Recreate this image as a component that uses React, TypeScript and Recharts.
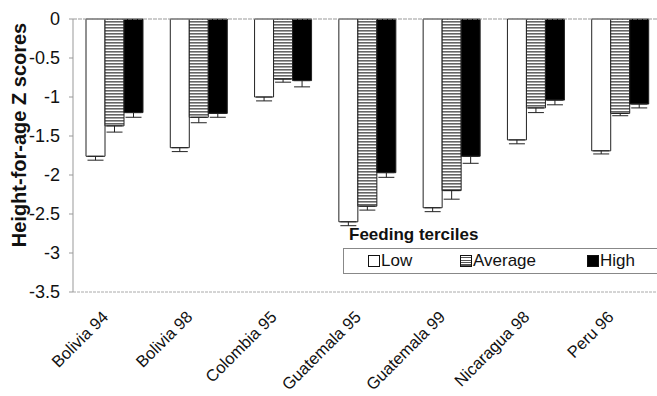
import { BarChart, Bar, XAxis, YAxis, ErrorBar, ReferenceLine } from 'recharts';

const categories = ['Bolivia 94', 'Bolivia 98', 'Colombia 95', 'Guatemala 95', 'Guatemala 99', 'Nicaragua 98', 'Peru 96'];
const low = [-1.76, -1.65, -1.0, -2.6, -2.42, -1.55, -1.69];
const lowErr = [0.05, 0.05, 0.05, 0.05, 0.05, 0.05, 0.04];
const average = [-1.37, -1.26, -0.77, -2.4, -2.2, -1.14, -1.21];
const averageErr = [0.08, 0.07, 0.04, 0.05, 0.11, 0.06, 0.03];
const high = [-1.2, -1.21, -0.79, -1.97, -1.76, -1.04, -1.09];
const highErr = [0.06, 0.05, 0.08, 0.06, 0.09, 0.06, 0.05];
const yTicks = [0, -0.5, -1, -1.5, -2, -2.5, -3, -3.5];

const data = categories.map((name, i) => ({
  name,
  low: low[i],
  lowErr: [lowErr[i], 0],
  average: average[i],
  averageErr: [averageErr[i], 0],
  high: high[i],
  highErr: [highErr[i], 0],
}));

const font = '"Liberation Sans", Arial, sans-serif';

function CategoryTick({ x, y, payload }: any) {
  const tx = x - 6;
  const ty = y + 18;
  return (
    <text
      x={tx}
      y={ty}
      transform={`rotate(-45, ${tx}, ${ty})`}
      textAnchor="end"
      fontSize={16.5}
      fontFamily={font}
      fill="#111"
    >
      {payload.value}
    </text>
  );
}

function AxisTitle() {
  return (
    <text
      x={26}
      y={135}
      transform="rotate(-90, 26, 135)"
      textAnchor="middle"
      fontSize={20}
      fontWeight="bold"
      fontFamily={font}
      fill="#111"
    >
      Height-for-age Z scores
    </text>
  );
}

function Swatch({ kind }: { kind: 'low' | 'average' | 'high' }) {
  const base = { display: 'inline-block', width: 10, height: 10, border: '1px solid #111', marginRight: 1, verticalAlign: -1 };
  if (kind === 'low') return <span style={{ ...base, background: '#fff' }} />;
  if (kind === 'high') return <span style={{ ...base, background: '#000' }} />;
  return (
    <span
      style={{
        ...base,
        background: 'repeating-linear-gradient(to bottom, #fff 0px, #fff 1px, #555 1px, #555 2.5px)',
      }}
    />
  );
}

export default function App() {
  return (
    <div style={{ position: 'absolute', left: 0, top: 0, width: 657, height: 396, overflow: 'hidden', background: '#fff' }}>
      <BarChart
        width={680}
        height={396}
        data={data}
        margin={{ top: 19, right: 17, left: 0, bottom: 0 }}
        barGap={0}
        barCategoryGap={13}
      >
        <defs>
          <pattern id="hstripe" width="4" height="3" patternUnits="userSpaceOnUse">
            <rect width="4" height="3" fill="#fff" />
            <rect width="4" height="1.6" fill="#666" />
          </pattern>
        </defs>
        <XAxis
          dataKey="name"
          height={104}
          interval={0}
          tick={<CategoryTick />}
          tickLine={false}
          axisLine={{ stroke: '#aaa', strokeDasharray: '3 1' }}
        />
        <YAxis
          type="number"
          domain={[-3.5, 0]}
          ticks={yTicks}
          width={73}
          tickSize={4}
          tickMargin={9}
          tickLine={{ stroke: '#999' }}
          axisLine={{ stroke: '#999' }}
          tick={{ fontSize: 18, fontFamily: font, fill: '#111' }}
          tickFormatter={(v: number) => String(v)}
          label={{ content: () => <AxisTitle /> }}
        />
        <ReferenceLine y={0} stroke="#999" strokeDasharray="4 1" />
        <Bar dataKey="low" fill="#fff" stroke="#222" strokeWidth={1} isAnimationActive={false}>
          <ErrorBar dataKey="lowErr" width={8} stroke="#222" strokeWidth={1} direction="y" />
        </Bar>
        <Bar dataKey="average" fill="url(#hstripe)" stroke="#222" strokeWidth={1} isAnimationActive={false}>
          <ErrorBar dataKey="averageErr" width={8} stroke="#222" strokeWidth={1} direction="y" />
        </Bar>
        <Bar dataKey="high" fill="#000" stroke="#222" strokeWidth={1} isAnimationActive={false}>
          <ErrorBar dataKey="highErr" width={8} stroke="#222" strokeWidth={1} direction="y" />
        </Bar>
      </BarChart>

      <div style={{ position: 'absolute', left: 349, top: 225, fontFamily: font, fontSize: 17, fontWeight: 'bold', color: '#111' }}>
        Feeding terciles
      </div>
      <div
        style={{
          position: 'absolute',
          left: 343,
          top: 248,
          width: 340,
          height: 24,
          border: '1px solid #888',
          fontFamily: font,
          fontSize: 17,
          color: '#111',
          lineHeight: '24px',
        }}
      >
        <span style={{ position: 'absolute', left: 24 }}><Swatch kind="low" />Low</span>
        <span style={{ position: 'absolute', left: 116 }}><Swatch kind="average" />Average</span>
        <span style={{ position: 'absolute', left: 243 }}><Swatch kind="high" />High</span>
      </div>
    </div>
  );
}
